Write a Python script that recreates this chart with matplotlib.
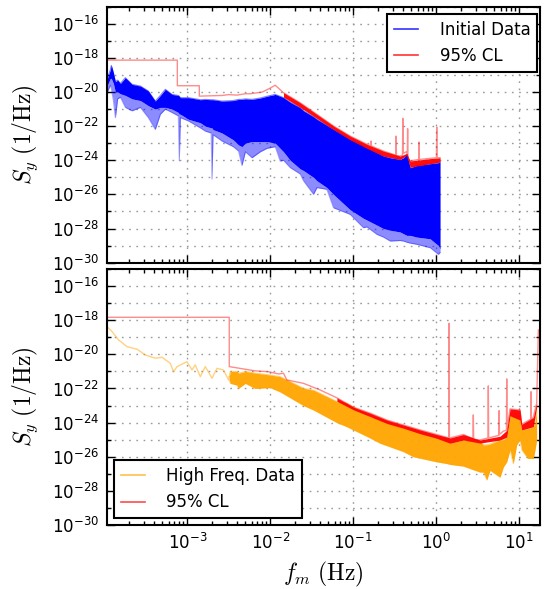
import numpy as np
import matplotlib
matplotlib.use('Agg')
import matplotlib.pyplot as plt
from matplotlib.lines import Line2D
from matplotlib.ticker import FixedLocator, LogLocator, NullFormatter, LogFormatterMathtext

plt.rcParams['axes.unicode_minus'] = False
plt.rcParams['font.family'] = ['DejaVu Sans']

# ---------------- data (log10 of frequency [Hz] and of S_y [1/Hz]) ----------------
# Top panel: Initial data envelope (upper, dense-core lower, spike lower)
top_f = [-3.964, -3.928, -3.916, -3.891, -3.867, -3.840, -3.807, -3.747, -3.666, -3.566,
         -3.470, -3.386, -3.325, -3.265, -3.184, -3.108, -3.096, -3.084, -2.984, -2.843,
         -2.783, -2.712, -2.702, -2.690, -2.582, -2.446, -2.382, -2.341, -2.300, -2.220,
         -2.120, -2.040, -1.940, -1.880, -1.840, -1.759, -1.639, -1.599, -1.478, -1.437,
         -1.317, -1.237, -1.036, -0.876, -0.835, -0.714, -0.635, -0.554, -0.434, -0.394,
         -0.353, -0.313, -0.233, -0.072, 0.028, 0.048]
top_hi = [-19.2, -18.7, -18.44, -18.87, -19.4, -19.3, -19.5, -19.16, -19.55, -19.65,
          -19.94, -20.53, -20.2, -19.84, -20.14, -20.2, -20.25, -20.33, -20.33, -20.45,
          -20.43, -20.45, -20.45, -20.45, -20.53, -20.5, -20.43, -20.43, -20.4, -20.43,
          -20.35, -20.25, -20.14, -20.25, -20.33, -20.6, -20.92, -21.1, -21.45, -21.6,
          -21.95, -22.19, -22.77, -23.15, -23.26, -23.55, -23.75, -23.85, -23.95, -23.85,
          -23.65, -24.44, -24.3, -24.2, -24.14, -24.1]
top_core = [-19.6, -19.2, -19.2, -19.5, -20.0, -20.0, -20.1, -20.2, -20.4, -20.5,
            -20.8, -21.0, -20.9, -20.9, -21.0, -21.2, -21.3, -21.3, -21.6, -21.8,
            -22.0, -22.1, -22.1, -22.2, -22.4, -22.8, -23.1, -23.2, -23.0, -22.9,
            -22.9, -22.9, -23.0, -23.3, -23.5, -24.0, -24.5, -24.6, -25.0, -25.2,
            -25.6, -26.0, -26.9, -27.4, -27.5, -27.8, -28.0, -28.1, -28.2, -28.3,
            -28.4, -28.4, -28.5, -28.6, -29.0, -29.2]
top_lo = [-20.0, -19.6, -19.8, -20.5, -21.5, -20.4, -20.3, -20.9, -21.1, -20.9,
          -21.5, -22.19, -21.3, -21.0, -21.2, -21.4, -24.04, -21.5, -21.7, -22.1,
          -22.29, -22.4, -25.1, -22.5, -22.87, -23.2, -23.46, -24.3, -23.5, -23.85,
          -23.5, -23.3, -23.2, -24.04, -24.0, -24.43, -24.8, -25.2, -25.99, -25.6,
          -25.7, -26.78, -27.17, -27.95, -27.9, -28.34, -28.5, -28.73, -28.7, -28.73,
          -28.8, -28.85, -28.92, -29.12, -29.51, -29.4]

# Top panel: 95% CL curve
top_cl_f = [-3.964, -3.12, -3.12, -2.855, -2.855, -2.578, -2.5, -2.4, -2.3, -2.241,
            -2.096, -2.0, -1.94, -1.84, -1.639, -1.437, -1.237, -1.036, -0.835, -0.787,
            -0.783, -0.779, -0.635, -0.486, -0.482, -0.478, -0.434, -0.405, -0.401, -0.397,
            -0.36, -0.347, -0.343, -0.339, -0.313, -0.209, -0.205, -0.201, 0.004, 0.008,
            0.012, 0.048]
top_cl_S = [-18.13, -18.13, -19.63, -19.63, -20.24, -20.2, -20.15, -20.18, -20.1, -20.1,
            -20.0, -19.77, -19.6, -20.04, -20.63, -21.31, -21.99, -22.58, -23.06, -23.15,
            -22.87, -23.17, -23.46, -23.7, -22.58, -23.72, -23.75, -23.7, -21.54, -23.6,
            -23.5, -23.6, -22.15, -23.9, -24.04, -23.95, -22.93, -23.95, -23.85, -22.05,
            -23.85, -23.85]
# Top panel: dense part of the 95% CL band
top_band_f = [-1.84, -1.639, -1.437, -1.237, -1.036, -0.835, -0.635, -0.434, -0.353, -0.313, -0.072, 0.048]
top_band_hi = [-20.04, -20.63, -21.31, -21.99, -22.58, -23.06, -23.46, -23.75, -23.6, -24.04, -23.9, -23.85]
top_band_lo = [-20.3, -20.9, -21.55, -22.2, -22.8, -23.3, -23.75, -23.95, -23.7, -24.4, -24.2, -24.1]

# Bottom panel: high frequency data, thin low-frequency part
hf_line_f = [-3.967, -3.907, -3.828, -3.727, -3.606, -3.506, -3.386, -3.305, -3.205, -3.165,
             -3.124, -3.004, -2.943, -2.904, -2.843, -2.783, -2.702, -2.642, -2.563, -2.502, -2.494]
hf_line_S = [-18.38, -18.67, -19.16, -19.55, -19.7, -20.04, -20.23, -20.17, -20.53, -21.02,
             -20.72, -20.43, -20.92, -20.62, -21.31, -20.72, -21.4, -20.82, -20.92, -21.5, -21.3]
# Bottom panel: high frequency data envelope
hf_f = [-2.494, -2.482, -2.40, -2.382, -2.30, -2.181, -2.0, -1.88, -1.599, -1.478,
        -1.196, -1.076, -0.795, -0.675, -0.394, -0.273, 0.008, 0.129, 0.169, 0.329,
        0.530, 0.570, 0.611, 0.651, 0.771, 0.811, 0.852, 0.892, 0.931, 0.972,
        1.012, 1.033, 1.108, 1.172, 1.193, 1.213]
hf_hi = [-21.3, -21.0, -21.0, -21.11, -21.0, -21.1, -21.21, -21.31, -21.99, -22.1,
         -22.77, -22.87, -23.65, -23.75, -24.33, -24.4, -24.92, -24.95, -25.21, -25.02,
         -25.1, -25.31, -25.3, -25.25, -25.02, -25.0, -24.85, -23.6, -23.6, -23.65,
         -23.85, -24.43, -24.35, -24.24, -24.0, -23.07]
hf_lo = [-21.5, -21.7, -21.8, -21.99, -21.7, -22.0, -21.95, -22.2, -23.0, -23.26,
         -24.0, -24.24, -24.9, -25.21, -25.7, -26.0, -26.3, -26.4, -26.45, -26.55,
         -26.9, -26.9, -27.36, -26.8, -27.2, -26.6, -26.3, -25.6, -26.4, -25.3,
         -25.02, -25.6, -26.1, -26.1, -25.6, -25.0]

# Bottom panel: 95% CL curve
bot_cl_f = [-3.964, -2.494, -2.494, -2.181, -2.02, -1.9, -1.84, -1.80, -1.599, -1.398,
            -1.196, -0.996, -0.795, -0.594, -0.394, -0.193, 0.008, 0.153, 0.157, 0.161,
            0.208, 0.329, 0.445, 0.449, 0.453, 0.530, 0.626, 0.63, 0.634, 0.756,
            0.76, 0.764, 0.811, 0.848, 0.852, 0.856, 0.892, 1.012, 1.033, 1.141,
            1.145, 1.149, 1.172, 1.213, 1.233]
bot_cl_S = [-17.83, -17.83, -20.72, -20.97, -21.02, -21.15, -21.11, -21.5, -21.7, -22.09,
            -22.55, -23.1, -23.45, -23.85, -24.14, -24.43, -24.7, -24.9, -18.18, -24.9,
            -24.85, -24.7, -24.95, -23.55, -25.0, -25.02, -24.9, -21.85, -24.9, -24.75,
            -23.3, -24.7, -24.5, -24.45, -21.44, -24.4, -23.2, -23.26, -24.1, -23.8,
            -22.19, -23.8, -23.7, -22.87, -18.57]
# Bottom panel: dense part of the 95% CL band
bot_band_f = [-1.196, -0.996, -0.795, -0.594, -0.394, -0.193, 0.008, 0.169, 0.329, 0.530,
              0.771, 0.852, 0.892, 1.012, 1.033, 1.172, 1.213]
bot_band_hi = [-22.55, -23.1, -23.45, -23.85, -24.14, -24.43, -24.7, -24.9, -24.7, -25.02,
               -24.8, -24.45, -23.2, -23.26, -24.1, -23.7, -22.87]
bot_band_lo = [-22.75, -23.25, -23.65, -24.05, -24.33, -24.65, -24.92, -25.21, -25.02, -25.2,
               -25.02, -24.85, -23.6, -23.85, -24.43, -24.24, -23.07]

ytick_exp = [-30, -28, -26, -24, -22, -20, -18, -16]
yminor_exp = [-29, -27, -25, -23, -21, -19, -17, -15]
legend_top = ['Initial Data', '95% CL']
legend_bot = ['High Freq. Data', '95% CL']


def p(a):
    return 10.0 ** np.asarray(a, dtype=float)


BLUE = '#0000ff'
RED = '#ff0000'
ORANGE = '#ffa500'

fig = plt.figure(figsize=(5.46, 5.89), dpi=100)
fig.patch.set_facecolor('white')
ax1 = fig.add_axes([0.196, 0.554, 0.793, 0.4346])
ax2 = fig.add_axes([0.196, 0.1087, 0.793, 0.4346])

for ax in (ax1, ax2):
    ax.set_xscale('log')
    ax.set_yscale('log')
    ax.set_xlim(10 ** -3.968, 10 ** 1.253)
    ax.set_ylim(1e-30, 1e-15)
    ax.yaxis.set_major_locator(FixedLocator(p(ytick_exp)))
    ax.yaxis.set_minor_locator(FixedLocator(p(yminor_exp)))
    ax.yaxis.set_major_formatter(LogFormatterMathtext())
    ax.yaxis.set_minor_formatter(NullFormatter())
    ax.xaxis.set_major_locator(LogLocator(base=10, numticks=20))
    ax.xaxis.set_minor_locator(LogLocator(base=10, subs=np.arange(2, 10), numticks=20))
    ax.xaxis.set_minor_formatter(NullFormatter())
    ax.tick_params(which='both', direction='in', top=True, right=True, labelsize=12, pad=6)
    ax.tick_params(which='major', length=6, width=1)
    ax.tick_params(which='minor', length=3, width=1)
    gkw = dict(color='0.6', linestyle=(0, (1.2, 4)), linewidth=1.0)
    ax.grid(True, which='major', axis='x', **gkw)
    ax.grid(True, which='both', axis='y', **gkw)
    ax.set_axisbelow(True)
    for s in ax.spines.values():
        s.set_linewidth(1.5)
        s.set_zorder(10)
ax1.tick_params(labelbottom=False)

# ---- top panel ----
ax1.fill_between(p(top_f), p(top_lo), p(top_core), color=BLUE, alpha=0.45, lw=0, zorder=2)
ax1.fill_between(p(top_f), p(top_core), p(top_hi), color=BLUE, alpha=1.0, lw=0, zorder=2)
ax1.plot(p(top_f), p(top_hi), color=BLUE, alpha=0.5, lw=0.8, zorder=2)
ax1.plot(p(top_f), p(top_lo), color=BLUE, alpha=0.35, lw=0.8, zorder=2)
ax1.plot(p(top_cl_f), p(top_cl_S), color=RED, alpha=0.45, lw=1.0, zorder=3)
ax1.fill_between(p(top_band_f), p(top_band_lo), p(top_band_hi), color=RED, alpha=0.95, lw=0, zorder=3)

# ---- bottom panel ----
ax2.plot(p(hf_line_f), p(hf_line_S), color=ORANGE, alpha=0.5, lw=1.0, zorder=2)
ax2.fill_between(p(hf_f), p(hf_lo), p(hf_hi), color=ORANGE, alpha=0.95, lw=0, zorder=2)
ax2.plot(p(hf_f), p(hf_hi), color=ORANGE, alpha=0.5, lw=0.8, zorder=2)
ax2.plot(p(hf_f), p(hf_lo), color=ORANGE, alpha=0.4, lw=0.8, zorder=2)
ax2.plot(p(bot_cl_f), p(bot_cl_S), color=RED, alpha=0.45, lw=1.0, zorder=3)
ax2.fill_between(p(bot_band_f), p(bot_band_lo), p(bot_band_hi), color=RED, alpha=0.95, lw=0, zorder=3)

# ---- labels ----
lab_kw = dict(fontsize=17, math_fontfamily='cm')
ax1.set_ylabel(r'$S_y\ (1/\mathrm{Hz})$', **lab_kw)
ax2.set_ylabel(r'$S_y\ (1/\mathrm{Hz})$', **lab_kw)
ax1.yaxis.set_label_coords(-0.155, 0.5)
ax2.yaxis.set_label_coords(-0.155, 0.5)
ax2.set_xlabel(r'$f_m\ (\mathrm{Hz})$', **lab_kw)
ax2.xaxis.set_label_coords(0.5, -0.135)

# ---- legends ----
leg_kw = dict(fontsize=12, fancybox=False, framealpha=1, edgecolor='k', borderaxespad=0,
              handlelength=1.45, handletextpad=1.3, labelspacing=0.5, borderpad=0.4)
h1 = [Line2D([], [], color=BLUE, alpha=0.8, lw=1.2), Line2D([], [], color=RED, alpha=0.8, lw=1.2)]
lg1 = ax1.legend(h1, legend_top, loc='upper right',
                 bbox_to_anchor=(537 / 546, 1 - 14 / 589), bbox_transform=fig.transFigure, **leg_kw)
lg1.get_frame().set_linewidth(1.5)
h2 = [Line2D([], [], color=ORANGE, alpha=0.7, lw=1.2), Line2D([], [], color=RED, alpha=0.7, lw=1.2)]
lg2 = ax2.legend(h2, legend_bot, loc='lower left',
                 bbox_to_anchor=(114 / 546, 1 - 518 / 589), bbox_transform=fig.transFigure, **leg_kw)
lg2.get_frame().set_linewidth(1.5)
for lg in (lg1, lg2):
    lg.set_zorder(20)

fig.savefig('out.png', dpi=100, facecolor='white')
